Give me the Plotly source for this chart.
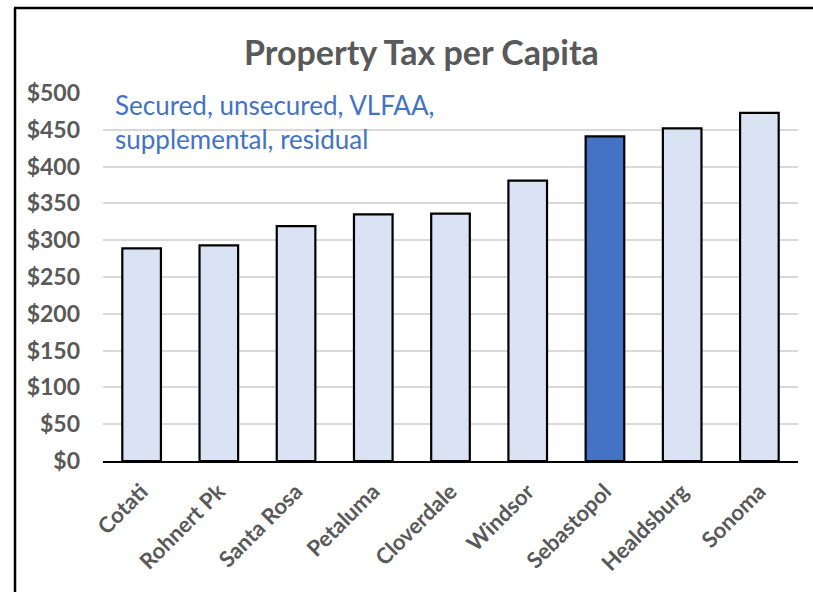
import plotly.graph_objects as go

# Property tax revenue per resident, Sonoma County cities
cities = ["Cotati", "Rohnert Pk", "Santa Rosa", "Petaluma", "Cloverdale",
          "Windsor", "Sebastopol", "Healdsburg", "Sonoma"]
tax_per_capita = [289, 293, 319, 335, 336, 381, 441, 452, 473]
highlight_city = "Sebastopol"
y_ticks = [0, 50, 100, 150, 200, 250, 300, 350, 400, 450, 500]
y_tick_labels = ["$" + str(v) for v in y_ticks]

W, H = 813, 592
M_L, M_R, M_T, M_B = 103, 15, 93, 131
plot_w = W - M_L - M_R
plot_h = H - M_T - M_B

light = "#DAE3F3"
dark = "#4472C4"
grey_text = "#595959"
font_family = "Lato, 'Open Sans', sans-serif"

bar_colors = [dark if c == highlight_city else light for c in cities]

fig = go.Figure(go.Bar(
    x=cities,
    y=tax_per_capita,
    marker=dict(color=bar_colors, line=dict(color="black", width=2.2)),
    hoverinfo="skip",
))


def px_x(px):
    return (px - M_L) / plot_w


def px_y(py):
    return (H - M_B - py) / plot_h


fig.update_layout(
    width=W, height=H,
    margin=dict(l=M_L, r=M_R, t=M_T, b=M_B, pad=0),
    paper_bgcolor="white",
    plot_bgcolor="white",
    bargap=0.5,
    showlegend=False,
    font=dict(family=font_family, color=grey_text),
    xaxis=dict(
        tickangle=-45,
        tickfont=dict(size=22, color=grey_text, family=font_family, weight="bold"),
        showgrid=False,
        showline=True, linecolor="black", linewidth=2,
        ticks="", ticklabelstandoff=7,
    ),
    yaxis=dict(
        range=[0, 500],
        tickmode="array",
        tickvals=y_ticks,
        ticktext=y_tick_labels,
        tickfont=dict(size=23, color=grey_text, family=font_family, weight="bold"),
        showgrid=True, gridcolor="#D9D9D9", gridwidth=1.6,
        zeroline=False, showline=False,
        ticks="", ticklabelstandoff=22,
    ),
    annotations=[
        dict(
            text="<b>Property Tax per Capita</b>",
            xref="paper", yref="paper",
            x=px_x(421), y=px_y(52),
            xanchor="center", yanchor="middle",
            showarrow=False,
            font=dict(size=34, color=grey_text, family=font_family),
        ),
        dict(
            text="Secured, unsecured, VLFAA,<br>supplemental, residual",
            xref="paper", yref="paper",
            x=px_x(113), y=px_y(87),
            xanchor="left", yanchor="top", align="left",
            showarrow=False,
            font=dict(size=26, color=dark, family=font_family),
        ),
    ],
    shapes=[
        # chart frame: left and top edges
        dict(type="line", xref="paper", yref="paper",
             x0=px_x(15), x1=px_x(15), y0=px_y(8), y1=px_y(H + 5),
             line=dict(color="black", width=2.5)),
        dict(type="line", xref="paper", yref="paper",
             x0=px_x(14), x1=px_x(W + 5), y0=px_y(8), y1=px_y(8),
             line=dict(color="black", width=2.5)),
    ],
)

fig.write_html("out.html")
